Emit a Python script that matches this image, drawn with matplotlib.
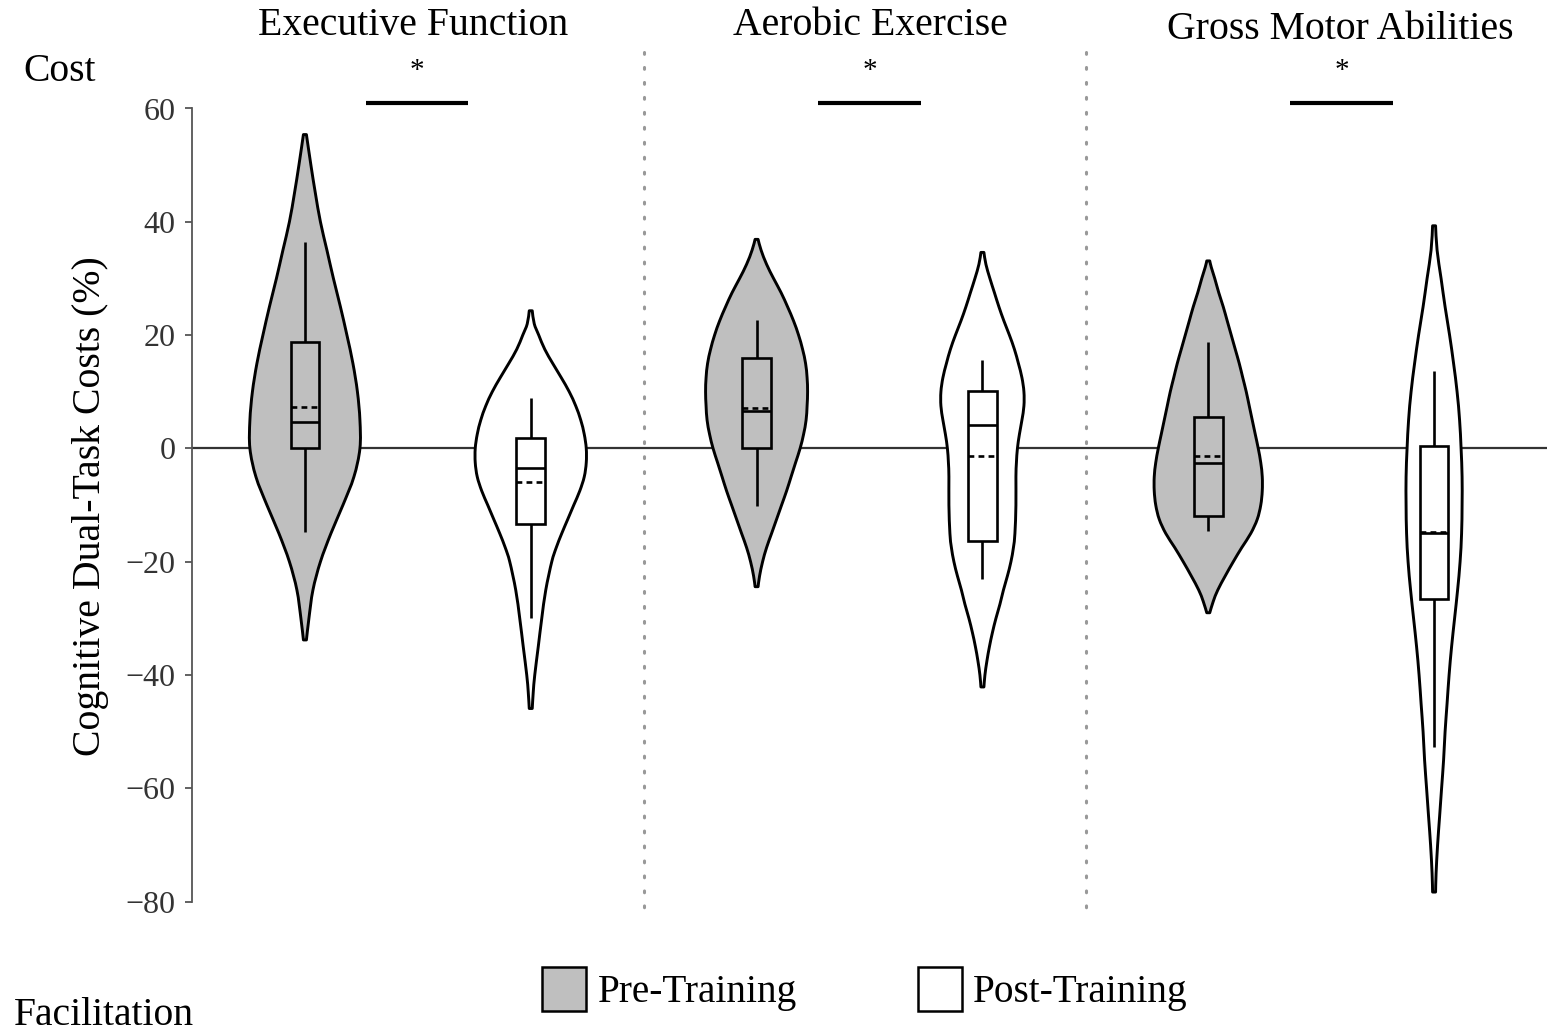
import numpy as np
import matplotlib
matplotlib.use('Agg')
import matplotlib.pyplot as plt
from matplotlib.path import Path
from matplotlib.patches import PathPatch, Rectangle

plt.rcParams['font.family'] = ['Liberation Serif', 'DejaVu Serif']

# ---------------- data ----------------
groups = ['Executive Function', 'Aerobic Exercise', 'Gross Motor Abilities']
conditions = ['Pre-Training', 'Post-Training']
yticks = [-80, -60, -40, -20, 0, 20, 40, 60]

# box statistics, order: EF pre, EF post, AE pre, AE post, GMA pre, GMA post
whisker_low = [-14.8, -30.0, -10.2, -23.1, -14.6, -52.7]
q1 = [0.0, -13.3, 0.0, -16.4, -11.9, -26.5]
median = [4.6, -3.5, 6.6, 4.1, -2.5, -15.0]
mean = [7.3, -5.9, 7.1, -1.4, -1.4, -14.7]
q3 = [18.7, 1.9, 16.0, 10.1, 5.5, 0.5]
whisker_high = [36.4, 8.9, 22.6, 15.6, 18.8, 13.7]

# violin outlines: value (%) and half width (density, px at original scale)
ef_pre_y = [55.4, 50, 45, 40, 35, 30, 25, 20, 15, 10, 5, 0, -5, -10, -15, -20, -25, -30, -33.8]
ef_pre_w = [1.5, 6, 10.5, 15.5, 22, 28.5, 35.5, 42, 48, 52.5, 55, 55, 49, 38, 26, 15.5, 8, 4, 1.5]
ef_post_y = [24.3, 22, 20, 17.5, 15, 12.5, 10, 7.5, 5, 2.5, 0, -2.5, -5, -7.5, -10, -12.5, -15,
             -17.5, -20, -25, -30, -35, -40, -43, -45.9]
ef_post_w = [1.5, 3.5, 8, 14, 22, 30.5, 38.5, 45, 50, 53.5, 55.5, 55.5, 53.5, 49, 43, 37, 31,
             25.5, 21, 15, 11, 7.5, 4, 2.5, 1.5]
ae_pre_y = [36.9, 35, 32.5, 30, 27.5, 25, 22.5, 20, 17.5, 15, 12.5, 10, 7.5, 5, 2.5, 0, -2.5,
            -5, -7.5, -10, -12.5, -15, -17.5, -20, -22.5, -24.4]
ae_pre_w = [1.5, 4.5, 10, 17, 24.5, 31, 37, 42, 46, 49, 50.5, 51, 50.5, 49.5, 47, 43.5, 39,
            34.5, 30, 25, 20, 15, 10, 6, 3, 1.5]
ae_post_y = [34.6, 32.5, 30, 27.5, 25, 22.5, 20, 17.5, 15, 12.5, 10, 7.5, 5, 2.5, 0, -2.5, -5,
             -10, -15, -17.5, -20, -22.5, -25, -27.5, -30, -32.5, -35, -37.5, -40, -42.1]
ae_post_w = [1.5, 3.5, 7.5, 12, 16.5, 21.5, 27, 32, 36, 39.5, 41.5, 41.5, 39.5, 37, 35, 34,
             33.5, 33.5, 32.5, 31, 28.5, 25, 21, 17.5, 13.5, 10, 7, 4.5, 2.5, 1.5]
gma_pre_y = [33.1, 32, 30, 27.5, 25, 22.5, 20, 17.5, 15, 12.5, 10, 7.5, 5, 2.5, 0, -2.5, -5,
             -7.5, -10, -12.5, -15, -17.5, -20, -22.5, -25, -27, -29.0]
gma_pre_w = [1.5, 3, 6.5, 10.5, 15, 19, 23, 27, 31, 34.5, 38, 41, 44, 47, 50, 52.5, 54, 54,
             52.5, 49, 42.5, 33.5, 25, 17, 9.5, 5, 1.5]
gma_post_y = [39.3, 35, 30, 25, 20, 15, 10, 5, 0, -5, -10, -15, -20, -25, -30, -35, -40, -45,
              -50, -55, -60, -65, -70, -75, -78.3]
gma_post_w = [1.5, 3, 7, 11, 15.5, 19.5, 23, 25.5, 27, 28, 28, 27.5, 26, 23.5, 20.5, 17.5, 15,
              13, 11, 9.5, 7.5, 5.5, 3.5, 2, 1.5]

profiles = [(ef_pre_y, ef_pre_w), (ef_post_y, ef_post_w),
            (ae_pre_y, ae_pre_w), (ae_post_y, ae_post_w),
            (gma_pre_y, gma_pre_w), (gma_post_y, gma_post_w)]

# ---------------- style ----------------
W, H = 1559, 1035
PRE_COLOR = '#bfbfbf'
POST_COLOR = 'white'
WIDTH_SCALE = 225.8      # density px -> x units
BOX_HALF = 0.0635
LW_OUT = 2.1
LW_BOX = 1.9

fig = plt.figure(figsize=(W / 100, H / 100), dpi=100)
ax = fig.add_axes([192 / W, 1 - 901.7 / H, 1355 / W, (901.7 - 108.5) / H])
ax.set_xlim(-0.5, 5.5)
ax.set_ylim(-80, 60)

for s in ['top', 'right', 'bottom']:
    ax.spines[s].set_visible(False)
ax.spines['left'].set_color('#555555')
ax.spines['left'].set_linewidth(1.3)
ax.set_xticks([])
ax.set_yticks(yticks)
ax.set_yticklabels([f'{t}' if t >= 0 else f'\u2212{abs(t)}' for t in yticks])
ax.tick_params(axis='y', length=5, width=1.3, color='#555555', labelsize=23,
               labelcolor='#333333', pad=7)

ax.axhline(0, color='#333333', lw=1.6, zorder=1)


def smooth_side(pts):
    P = np.asarray(pts, dtype=float)
    n = len(P)
    verts = []
    for i in range(n - 1):
        p0 = P[i - 1] if i > 0 else P[i]
        p1 = P[i]
        p2 = P[i + 1]
        p3 = P[i + 2] if i + 2 < n else P[i + 1]
        verts += [p1 + (p2 - p0) / 6.0, p2 - (p3 - p1) / 6.0, p2]
    return verts


for i, (ys, ws) in enumerate(profiles):
    pos = i
    color = PRE_COLOR if i % 2 == 0 else POST_COLOR
    ys = np.asarray(ys, float)
    hw = np.asarray(ws, float) / WIDTH_SCALE
    right = np.column_stack([pos + hw, ys])
    left = np.column_stack([pos - hw, ys])[::-1]
    verts = [left[-1], right[0]]
    codes = [Path.MOVETO, Path.LINETO]
    rs = smooth_side(right)
    verts += rs
    codes += [Path.CURVE4] * len(rs)
    verts.append(left[0])
    codes.append(Path.LINETO)
    ls = smooth_side(left)
    verts += ls
    codes += [Path.CURVE4] * len(ls)
    verts.append(left[-1])
    codes.append(Path.CLOSEPOLY)
    ax.add_patch(PathPatch(Path(verts, codes), facecolor=color, edgecolor='black',
                           lw=LW_OUT, zorder=2, joinstyle='round'))

    # box plot
    ax.add_patch(Rectangle((pos - BOX_HALF, q1[i]), 2 * BOX_HALF, q3[i] - q1[i],
                           facecolor=color, edgecolor='black', lw=LW_BOX, zorder=3))
    ax.plot([pos, pos], [whisker_low[i], q1[i]], color='black', lw=LW_BOX, zorder=3,
            solid_capstyle='butt')
    ax.plot([pos, pos], [q3[i], whisker_high[i]], color='black', lw=LW_BOX, zorder=3,
            solid_capstyle='butt')
    ax.plot([pos - BOX_HALF, pos + BOX_HALF], [median[i], median[i]], color='black',
            lw=LW_BOX, zorder=4, solid_capstyle='butt')
    ax.plot([pos - BOX_HALF, pos + BOX_HALF], [mean[i], mean[i]], color='black',
            lw=LW_BOX, zorder=4, ls=(0, (2.2, 1.6)))

# group separators
for xs in [1.5, 3.46]:
    ax.plot([xs, xs], [70, -82], color='#999999', lw=2.2, ls=(0, (0.6, 4.3)),
            dash_capstyle='round', clip_on=False, zorder=1)

# titles, significance bars, asterisks
title_x = [0.478, 2.502, 4.586]
title_y = [72.9, 72.9, 72.3]
bar_x = [(0.27, 0.72), (2.27, 2.73), (4.36, 4.82)]
for g, tx, ty, (b0, b1) in zip(groups, title_x, title_y, bar_x):
    ax.text(tx, ty, g, ha='center', va='baseline', fontsize=28.6, clip_on=False)
    ax.plot([b0, b1], [60.9, 60.9], color='black', lw=3, clip_on=False,
            solid_capstyle='butt')
    ax.text((b0 + b1) / 2, 65.4, '*', ha='center', va='baseline', fontsize=21,
            clip_on=False)

# side labels
fig.text(23 / W, 1 - 81 / H, 'Cost', ha='left', va='baseline', fontsize=28.5)
fig.text(14 / W, 1 - 1025 / H, 'Facilitation', ha='left', va='baseline', fontsize=28.5)
fig.text(100 / W, 1 - 506 / H, 'Cognitive Dual-Task Costs (%)', rotation=90,
         rotation_mode='anchor', ha='center', va='baseline', fontsize=28.6)

# legend
for (sx, tx), lab, col in zip([(542, 598), (918, 973)], conditions, [PRE_COLOR, POST_COLOR]):
    fig.patches.append(Rectangle((sx / W, 1 - 1011 / H), 44 / W, 44 / H,
                                 transform=fig.transFigure, facecolor=col,
                                 edgecolor='black', lw=1.8))
    fig.text(tx / W, 1 - 1002 / H, lab, ha='left', va='baseline', fontsize=28.3)

fig.savefig('out.png', dpi=100)
